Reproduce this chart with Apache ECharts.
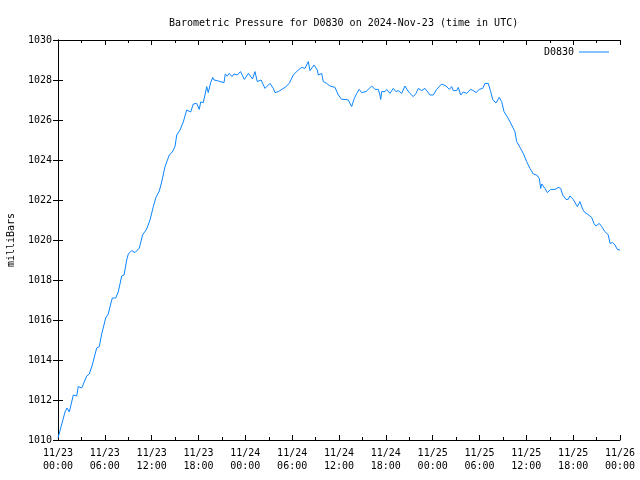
<!DOCTYPE html>
<html>
<head>
<meta charset="utf-8">
<script src="https://cdn.jsdelivr.net/npm/echarts@6/dist/echarts.min.js"></script>
<style>html,body{margin:0;padding:0;background:#fff}#c{width:640px;height:480px}</style>
</head>
<body>
<div id="c"></div>
<script>
var titleText = "Barometric Pressure for D0830 on 2024-Nov-23 (time in UTC)";
var seriesName = "D0830";
var yAxisName = "milliBars";
var xTickLabels = ["11/23\n00:00","11/23\n06:00","11/23\n12:00","11/23\n18:00","11/24\n00:00","11/24\n06:00","11/24\n12:00","11/24\n18:00","11/25\n00:00","11/25\n06:00","11/25\n12:00","11/25\n18:00","11/26\n00:00"];
// hours since 2024-11-23 00:00 UTC
var hours = [0,0.90,1.15,1.45,1.96,2.40,2.60,3.04,3.68,4.01,4.39,4.96,5.29,5.60,6.11,6.44,6.75,6.96,7.39,7.72,8.16,8.46,8.80,9.01,9.44,9.86,10.42,10.83,11.36,11.79,12.21,12.55,12.98,13.28,13.71,14.26,14.64,14.99,15.21,15.63,16.05,16.27,16.49,16.69,17.00,17.33,17.77,18.10,18.28,18.61,18.83,19.05,19.25,19.56,19.82,19.98,20.41,20.75,21.27,21.43,21.69,21.94,22.29,22.55,22.97,23.38,23.87,24.40,24.92,25.24,25.53,26.01,26.52,27.16,27.58,27.80,28.22,29.08,29.63,30.14,30.78,31.22,31.64,32.07,32.28,32.80,33.22,33.35,33.78,33.99,34.42,34.85,35.49,35.91,36.34,36.77,37.19,37.62,37.96,38.27,38.60,38.91,39.46,40.19,40.61,41.03,41.25,41.34,41.47,41.89,42.11,42.53,42.95,43.30,43.59,44.03,44.45,44.75,45.09,45.52,45.86,46.16,46.59,47.02,47.66,48.08,48.51,49.15,49.71,50.13,50.44,50.64,51.08,51.28,51.59,51.92,52.36,52.87,53.20,53.55,53.97,54.41,54.70,55.12,55.43,55.69,56.11,56.53,56.84,57.14,57.65,58.12,58.54,58.76,59.19,59.61,60.04,60.47,60.89,61.33,61.66,61.84,61.97,62.39,62.68,63.12,63.67,63.89,64.09,64.40,64.66,64.82,65.08,65.37,65.59,66.01,66.23,66.53,66.87,67.22,67.51,67.81,68.06,68.37,68.66,68.92,69.34,69.65,70.07,70.50,70.72,71.06,71.36,71.65,71.83,72.0];
var pressure = [1010.1,1011.4,1011.6,1011.4,1012.25,1012.2,1012.67,1012.6,1013.2,1013.3,1013.75,1014.6,1014.67,1015.3,1016.1,1016.3,1016.8,1017.1,1017.1,1017.4,1018.2,1018.25,1019.0,1019.3,1019.47,1019.37,1019.6,1020.25,1020.55,1021.0,1021.67,1022.13,1022.45,1022.9,1023.67,1024.25,1024.4,1024.67,1025.25,1025.5,1025.9,1026.0,1026.5,1026.6,1026.4,1026.8,1026.83,1026.53,1026.9,1026.87,1027.25,1027.67,1027.37,1027.87,1028.13,1028.0,1027.97,1027.92,1027.87,1028.3,1028.2,1028.33,1028.17,1028.3,1028.25,1028.42,1028.03,1028.33,1028.05,1028.42,1027.92,1028.0,1027.58,1027.83,1027.58,1027.37,1027.42,1027.63,1027.83,1028.25,1028.5,1028.63,1028.58,1028.92,1028.47,1028.75,1028.5,1028.25,1028.33,1027.92,1027.83,1027.7,1027.63,1027.25,1027.03,1027.03,1027.0,1026.67,1027.08,1027.33,1027.53,1027.37,1027.42,1027.7,1027.53,1027.53,1027.25,1027.03,1027.42,1027.42,1027.53,1027.33,1027.58,1027.42,1027.47,1027.33,1027.7,1027.5,1027.33,1027.17,1027.33,1027.58,1027.47,1027.58,1027.25,1027.25,1027.53,1027.8,1027.7,1027.53,1027.67,1027.47,1027.47,1027.63,1027.25,1027.4,1027.33,1027.53,1027.47,1027.37,1027.53,1027.58,1027.83,1027.83,1027.42,1027.03,1026.85,1027.13,1026.92,1026.42,1026.1,1025.75,1025.42,1024.92,1024.63,1024.33,1023.92,1023.58,1023.3,1023.25,1023.08,1022.58,1022.8,1022.58,1022.37,1022.53,1022.53,1022.47,1022.63,1022.58,1022.25,1022.33,1022.03,1022.03,1022.2,1022.03,1022.13,1021.67,1021.92,1021.53,1021.37,1021.3,1021.25,1021.13,1020.83,1020.7,1020.83,1020.67,1020.42,1020.25,1019.83,1019.87,1019.75,1019.53,1019.63,1019.5];

var data = hours.map(function (h, i) { return [h, pressure[i]]; });
var FONT = "DejaVu Sans Mono";
var chart = echarts.init(document.getElementById('c'), null, {renderer: 'canvas'});
var axisLine = {show: true, lineStyle: {color: '#000', width: 1}};
chart.setOption({
  animation: false,
  backgroundColor: '#fff',
  textStyle: {fontFamily: FONT, fontSize: 10, color: '#000'},
  title: {
    text: titleText, left: 164, top: 13,
    textStyle: {fontFamily: FONT, fontSize: 10, fontWeight: 'normal', color: '#000'}
  },
  legend: {
    data: [{name: seriesName, icon: 'rect'}], right: 26, top: 42, align: 'right',
    itemWidth: 30, itemHeight: 1,
    textStyle: {fontFamily: FONT, fontSize: 10, color: '#000'}
  },
  grid: {left: 58, right: 20, top: 40, bottom: 40, containLabel: false, outerBoundsMode: 'none'},
  xAxis: [{
    type: 'value', min: 0, max: 72, interval: 6, position: 'bottom',
    axisLine: axisLine,
    axisTick: {show: true, inside: true, length: 5, lineStyle: {color: '#000'}},
    minorTick: {show: true, splitNumber: 2, length: 3, lineStyle: {color: '#000'}},
    splitLine: {show: false},
    axisLabel: {
      margin: 7, fontFamily: FONT, fontSize: 10, color: '#000', lineHeight: 13,
      formatter: function (v) { return xTickLabels[Math.round(v / 6)]; }
    }
  }, {
    type: 'value', min: 0, max: 72, interval: 6, position: 'top',
    axisLine: axisLine,
    axisTick: {show: true, inside: true, length: 5, lineStyle: {color: '#000'}},
    minorTick: {show: true, splitNumber: 2, length: 3, lineStyle: {color: '#000'}},
    splitLine: {show: false},
    axisLabel: {show: false}
  }],
  yAxis: [{
    type: 'value', min: 1010, max: 1030, interval: 2, position: 'left',
    name: yAxisName, nameLocation: 'middle', nameGap: 42, nameRotate: 90,
    nameTextStyle: {fontFamily: FONT, fontSize: 10, color: '#000'},
    axisLine: axisLine,
    axisTick: {show: true, inside: true, length: 5, lineStyle: {color: '#000'}},
    splitLine: {show: false},
    axisLabel: {margin: 6, fontFamily: FONT, fontSize: 10, color: '#000',
      formatter: function (v) { return String(v); }}
  }, {
    type: 'value', min: 1010, max: 1030, interval: 2, position: 'right',
    axisLine: axisLine,
    axisTick: {show: true, inside: true, length: 5, lineStyle: {color: '#000'}},
    splitLine: {show: false},
    axisLabel: {show: false}
  }],
  series: [{
    name: seriesName, type: 'line', data: data,
    xAxisIndex: 0, yAxisIndex: 0,
    symbol: 'none', smooth: false,
    color: '#0a84ff',
    lineStyle: {color: '#0a84ff', width: 1}
  }]
});
</script>
</body>
</html>
